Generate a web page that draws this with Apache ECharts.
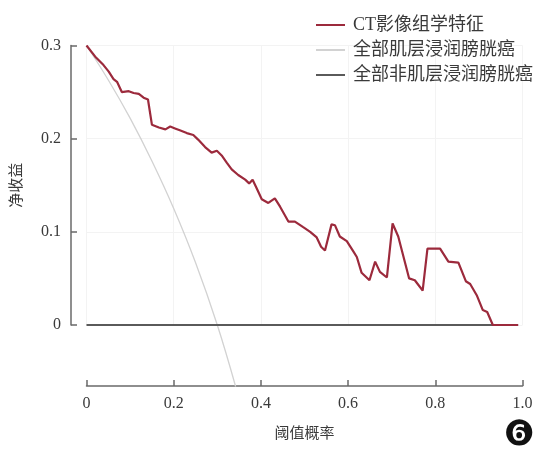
<!DOCTYPE html>
<html lang="zh">
<head>
<meta charset="utf-8">
<title>DCA</title>
<script src="https://cdn.jsdelivr.net/npm/echarts@6/dist/echarts.min.js"></script>
<style>
  html, body { margin: 0; padding: 0; background: #fff; }
  #chart { width: 536px; height: 452px; }
</style>
</head>
<body>
<div id="chart"></div>
<script type="text/javascript">
  // series names
  let seriesNames = ['CT影像组学特征', '全部肌层浸润膀胱癌', '全部非肌层浸润膀胱癌'];

  // CT radiomics curve
  let ctThreshold = [0, 0.020, 0.039, 0.051, 0.062, 0.070, 0.081, 0.097, 0.108, 0.120,
    0.131, 0.141, 0.150, 0.166, 0.181, 0.192, 0.203, 0.214, 0.230, 0.245,
    0.256, 0.272, 0.287, 0.299, 0.310, 0.322, 0.333, 0.348, 0.364, 0.373,
    0.381, 0.390, 0.402, 0.417, 0.432, 0.444, 0.463, 0.478, 0.497, 0.513,
    0.528, 0.538, 0.547, 0.562, 0.570, 0.581, 0.597, 0.612, 0.620, 0.631,
    0.649, 0.662, 0.673, 0.689, 0.702, 0.715, 0.740, 0.753, 0.771, 0.782,
    0.811, 0.830, 0.853, 0.870, 0.880, 0.895, 0.909, 0.919, 0.932, 0.990];
  let ctBenefit = [0.300, 0.288, 0.279, 0.272, 0.264, 0.261, 0.250, 0.251, 0.249, 0.248,
    0.244, 0.242, 0.215, 0.212, 0.210, 0.213, 0.211, 0.209, 0.206, 0.204,
    0.199, 0.191, 0.185, 0.187, 0.182, 0.174, 0.167, 0.161, 0.156, 0.152,
    0.156, 0.147, 0.135, 0.131, 0.136, 0.127, 0.111, 0.111, 0.105, 0.100,
    0.094, 0.084, 0.080, 0.108, 0.107, 0.095, 0.090, 0.079, 0.073, 0.056,
    0.048, 0.068, 0.057, 0.051, 0.109, 0.095, 0.050, 0.048, 0.037, 0.082,
    0.082, 0.068, 0.067, 0.047, 0.044, 0.032, 0.016, 0.014, 0.000, 0.000];

  // treat-all curve
  let allThreshold = [0, 0.05, 0.10, 0.15, 0.20, 0.25, 0.30, 0.342];
  let allBenefit = [0.300, 0.263, 0.222, 0.176, 0.125, 0.067, 0.000, -0.066];

  // treat-none line
  let noneThreshold = [0, 0.99];
  let noneBenefit = [0, 0];

  let xTickLabels = ['0', '0.2', '0.4', '0.6', '0.8', '1.0'];
  let yTickLabels = ['0', '0.1', '0.2', '0.3'];

  function pairs(xs, ys) {
    return xs.map((x, i) => [x, ys[i]]);
  }

  let fontFam = '"Liberation Serif", "Noto Sans CJK SC", serif';
  let axisColor = '#6a6a6a';

  let Chart = echarts.init(document.getElementById('chart'));

  let option = {
    animation: false,
    grid: { left: 86.5, right: 13.5, top: 45.5, bottom: 127 },
    legend: {
      orient: 'vertical',
      left: 311,
      top: 11,
      icon: 'rect',
      itemWidth: 29,
      itemHeight: 2,
      itemGap: 7,
      textStyle: { fontFamily: fontFam, fontSize: 18, color: '#3a3a3a', padding: [0, 0, 0, 3] },
      data: seriesNames
    },
    xAxis: {
      type: 'value',
      min: 0,
      max: 1,
      interval: 0.2,
      offset: 61,
      name: '阈值概率',
      nameLocation: 'middle',
      nameGap: 41,
      nameTextStyle: { fontFamily: fontFam, fontSize: 15, color: '#3a3a3a' },
      axisLine: { show: true, onZero: false, lineStyle: { color: axisColor, width: 1.5 } },
      axisTick: { show: true, inside: true, length: 6, lineStyle: { color: axisColor, width: 1.5 } },
      axisLabel: {
        fontFamily: fontFam, fontSize: 16, color: '#3a3a3a', margin: 10,
        formatter: (v) => xTickLabels[Math.round(v / 0.2)]
      },
      splitLine: { show: true, lineStyle: { color: '#f3f3f3', width: 1 } }
    },
    yAxis: {
      type: 'value',
      min: 0,
      max: 0.3,
      interval: 0.1,
      offset: 15.5,
      name: '净收益',
      nameLocation: 'middle',
      nameGap: 46,
      nameTextStyle: { fontFamily: fontFam, fontSize: 15, color: '#3a3a3a' },
      axisLine: { show: true, onZero: false, lineStyle: { color: axisColor, width: 1.5 } },
      axisTick: { show: true, inside: true, length: 6, lineStyle: { color: axisColor, width: 1.5 } },
      axisLabel: {
        fontFamily: fontFam, fontSize: 16, color: '#3a3a3a', margin: 10,
        formatter: (v) => yTickLabels[Math.round(v / 0.1)]
      },
      splitLine: { show: true, lineStyle: { color: '#f3f3f3', width: 1 } }
    },
    series: [
      {
        name: seriesNames[0],
        type: 'line',
        symbol: 'none',
        z: 4,
        color: '#9c2a3c',
        lineStyle: { color: '#9c2a3c', width: 2.2 },
        data: pairs(ctThreshold, ctBenefit)
      },
      {
        name: seriesNames[1],
        type: 'line',
        symbol: 'none',
        smooth: 0.4,
        clip: false,
        z: 2,
        color: '#d2d2d2',
        lineStyle: { color: '#d2d2d2', width: 1.3 },
        data: pairs(allThreshold, allBenefit)
      },
      {
        name: seriesNames[2],
        type: 'line',
        symbol: 'none',
        z: 3,
        color: '#5a5a5a',
        lineStyle: { color: '#5a5a5a', width: 2 },
        data: pairs(noneThreshold, noneBenefit)
      }
    ],
    graphic: [
      {
        type: 'text',
        right: 1,
        bottom: -1,
        style: { text: '❻', font: '35px "DejaVu Sans"', fill: '#111' }
      }
    ]
  };

  Chart.setOption(option);
</script>
</body>
</html>
